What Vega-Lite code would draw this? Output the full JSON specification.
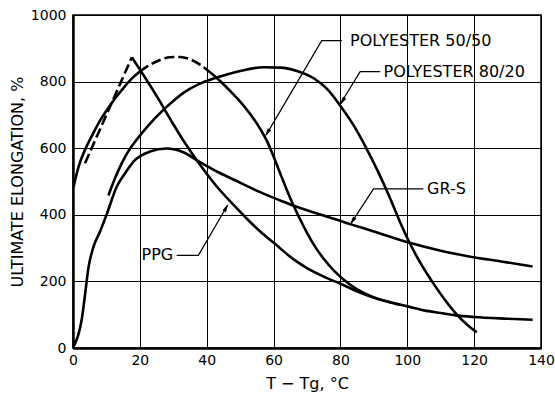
{
  "$schema": "https://vega.github.io/schema/vega-lite/v6.json",
  "width": 468,
  "height": 333,
  "autosize": {"type": "none"},
  "padding": {"left": 73, "top": 15, "right": 14, "bottom": 47},
  "background": "white",
  "config": {
    "view": {"stroke": "black", "strokeWidth": 1.5},
    "font": "DejaVu Sans",
    "axis": {
      "domainColor": "black",
      "domainWidth": 2.5,
      "grid": true,
      "gridColor": "black",
      "gridWidth": 1,
      "gridOpacity": 1,
      "ticks": false,
      "labelFont": "DejaVu Sans",
      "labelFontSize": 14,
      "labelColor": "black",
      "labelFlush": false,
      "labelOverlap": false,
      "titleFont": "DejaVu Sans",
      "titleFontSize": 16,
      "titleFontWeight": "normal",
      "titleColor": "black"
    }
  },
  "datasets": {
    "solid": [
      {"curve": "PPG", "part": "fall", "x": 17.6, "y": 873},
      {"curve": "PPG", "part": "fall", "x": 25, "y": 757},
      {"curve": "PPG", "part": "fall", "x": 30, "y": 672},
      {"curve": "PPG", "part": "fall", "x": 33.6, "y": 614},
      {"curve": "PPG", "part": "fall", "x": 38, "y": 550},
      {"curve": "PPG", "part": "fall", "x": 43, "y": 485},
      {"curve": "PPG", "part": "fall", "x": 48, "y": 430},
      {"curve": "PPG", "part": "fall", "x": 52, "y": 388},
      {"curve": "PPG", "part": "fall", "x": 56, "y": 350},
      {"curve": "PPG", "part": "fall", "x": 60.5, "y": 312},
      {"curve": "PPG", "part": "fall", "x": 66, "y": 266},
      {"curve": "PPG", "part": "fall", "x": 70, "y": 240},
      {"curve": "PPG", "part": "fall", "x": 76, "y": 210},
      {"curve": "PPG", "part": "fall", "x": 80, "y": 193},
      {"curve": "PPG", "part": "fall", "x": 86, "y": 166},
      {"curve": "PPG", "part": "fall", "x": 91, "y": 148},
      {"curve": "PPG", "part": "fall", "x": 95, "y": 137},
      {"curve": "PPG", "part": "fall", "x": 100, "y": 125},
      {"curve": "PPG", "part": "fall", "x": 105, "y": 113},
      {"curve": "PPG", "part": "fall", "x": 110, "y": 105},
      {"curve": "PPG", "part": "fall", "x": 114.5, "y": 98},
      {"curve": "PPG", "part": "fall", "x": 120, "y": 93},
      {"curve": "PPG", "part": "fall", "x": 130, "y": 88},
      {"curve": "PPG", "part": "fall", "x": 137.5, "y": 85},

      {"curve": "POLYESTER 50/50", "part": "rise", "x": 0.2, "y": 485},
      {"curve": "POLYESTER 50/50", "part": "rise", "x": 1.6, "y": 542},
      {"curve": "POLYESTER 50/50", "part": "rise", "x": 3.8, "y": 600},
      {"curve": "POLYESTER 50/50", "part": "rise", "x": 5.8, "y": 640},
      {"curve": "POLYESTER 50/50", "part": "rise", "x": 7.9, "y": 680},
      {"curve": "POLYESTER 50/50", "part": "rise", "x": 10.3, "y": 717},
      {"curve": "POLYESTER 50/50", "part": "rise", "x": 12.8, "y": 752},
      {"curve": "POLYESTER 50/50", "part": "rise", "x": 15.2, "y": 782},
      {"curve": "POLYESTER 50/50", "part": "rise", "x": 17.5, "y": 808},
      {"curve": "POLYESTER 50/50", "part": "rise", "x": 20, "y": 830},

      {"curve": "POLYESTER 50/50", "part": "fall", "x": 41, "y": 828},
      {"curve": "POLYESTER 50/50", "part": "fall", "x": 44, "y": 802},
      {"curve": "POLYESTER 50/50", "part": "fall", "x": 47, "y": 772},
      {"curve": "POLYESTER 50/50", "part": "fall", "x": 50, "y": 740},
      {"curve": "POLYESTER 50/50", "part": "fall", "x": 53, "y": 703},
      {"curve": "POLYESTER 50/50", "part": "fall", "x": 56, "y": 658},
      {"curve": "POLYESTER 50/50", "part": "fall", "x": 58, "y": 622},
      {"curve": "POLYESTER 50/50", "part": "fall", "x": 60, "y": 575},
      {"curve": "POLYESTER 50/50", "part": "fall", "x": 62, "y": 524},
      {"curve": "POLYESTER 50/50", "part": "fall", "x": 64, "y": 474},
      {"curve": "POLYESTER 50/50", "part": "fall", "x": 66, "y": 427},
      {"curve": "POLYESTER 50/50", "part": "fall", "x": 68, "y": 385},
      {"curve": "POLYESTER 50/50", "part": "fall", "x": 70, "y": 346},
      {"curve": "POLYESTER 50/50", "part": "fall", "x": 72.5, "y": 303},
      {"curve": "POLYESTER 50/50", "part": "fall", "x": 75, "y": 268},
      {"curve": "POLYESTER 50/50", "part": "fall", "x": 78, "y": 233},
      {"curve": "POLYESTER 50/50", "part": "fall", "x": 81, "y": 205},
      {"curve": "POLYESTER 50/50", "part": "fall", "x": 85, "y": 176},
      {"curve": "POLYESTER 50/50", "part": "fall", "x": 90, "y": 152},
      {"curve": "POLYESTER 50/50", "part": "fall", "x": 95, "y": 137},

      {"curve": "POLYESTER 80/20", "part": "all", "x": 10.6, "y": 458},
      {"curve": "POLYESTER 80/20", "part": "all", "x": 12.5, "y": 508},
      {"curve": "POLYESTER 80/20", "part": "all", "x": 14.6, "y": 555},
      {"curve": "POLYESTER 80/20", "part": "all", "x": 17, "y": 598},
      {"curve": "POLYESTER 80/20", "part": "all", "x": 19, "y": 625},
      {"curve": "POLYESTER 80/20", "part": "all", "x": 22.5, "y": 668},
      {"curve": "POLYESTER 80/20", "part": "all", "x": 26.5, "y": 710},
      {"curve": "POLYESTER 80/20", "part": "all", "x": 30, "y": 742},
      {"curve": "POLYESTER 80/20", "part": "all", "x": 33.6, "y": 770},
      {"curve": "POLYESTER 80/20", "part": "all", "x": 38, "y": 794},
      {"curve": "POLYESTER 80/20", "part": "all", "x": 43, "y": 812},
      {"curve": "POLYESTER 80/20", "part": "all", "x": 50, "y": 832},
      {"curve": "POLYESTER 80/20", "part": "all", "x": 57, "y": 843},
      {"curve": "POLYESTER 80/20", "part": "all", "x": 62, "y": 842},
      {"curve": "POLYESTER 80/20", "part": "all", "x": 67, "y": 832},
      {"curve": "POLYESTER 80/20", "part": "all", "x": 72, "y": 810},
      {"curve": "POLYESTER 80/20", "part": "all", "x": 76, "y": 778},
      {"curve": "POLYESTER 80/20", "part": "all", "x": 80, "y": 727},
      {"curve": "POLYESTER 80/20", "part": "all", "x": 84, "y": 668},
      {"curve": "POLYESTER 80/20", "part": "all", "x": 87.5, "y": 605},
      {"curve": "POLYESTER 80/20", "part": "all", "x": 91, "y": 535},
      {"curve": "POLYESTER 80/20", "part": "all", "x": 94.5, "y": 458},
      {"curve": "POLYESTER 80/20", "part": "all", "x": 97.5, "y": 386},
      {"curve": "POLYESTER 80/20", "part": "all", "x": 100.4, "y": 322},
      {"curve": "POLYESTER 80/20", "part": "all", "x": 104, "y": 254},
      {"curve": "POLYESTER 80/20", "part": "all", "x": 107.4, "y": 200},
      {"curve": "POLYESTER 80/20", "part": "all", "x": 111, "y": 148},
      {"curve": "POLYESTER 80/20", "part": "all", "x": 114.5, "y": 104},
      {"curve": "POLYESTER 80/20", "part": "all", "x": 118, "y": 69},
      {"curve": "POLYESTER 80/20", "part": "all", "x": 120.8, "y": 47},

      {"curve": "GR-S", "part": "all", "x": 0, "y": 0},
      {"curve": "GR-S", "part": "all", "x": 0.8, "y": 18},
      {"curve": "GR-S", "part": "all", "x": 1.6, "y": 40},
      {"curve": "GR-S", "part": "all", "x": 2.6, "y": 85},
      {"curve": "GR-S", "part": "all", "x": 3.6, "y": 160},
      {"curve": "GR-S", "part": "all", "x": 4.6, "y": 240},
      {"curve": "GR-S", "part": "all", "x": 6, "y": 300},
      {"curve": "GR-S", "part": "all", "x": 8.1, "y": 350},
      {"curve": "GR-S", "part": "all", "x": 10.1, "y": 402},
      {"curve": "GR-S", "part": "all", "x": 13.1, "y": 485},
      {"curve": "GR-S", "part": "all", "x": 15.6, "y": 525},
      {"curve": "GR-S", "part": "all", "x": 18.1, "y": 560},
      {"curve": "GR-S", "part": "all", "x": 23, "y": 590},
      {"curve": "GR-S", "part": "all", "x": 28, "y": 599},
      {"curve": "GR-S", "part": "all", "x": 33, "y": 588},
      {"curve": "GR-S", "part": "all", "x": 38, "y": 558},
      {"curve": "GR-S", "part": "all", "x": 43, "y": 530},
      {"curve": "GR-S", "part": "all", "x": 48, "y": 506},
      {"curve": "GR-S", "part": "all", "x": 56, "y": 468},
      {"curve": "GR-S", "part": "all", "x": 62, "y": 443},
      {"curve": "GR-S", "part": "all", "x": 66, "y": 427},
      {"curve": "GR-S", "part": "all", "x": 75, "y": 398},
      {"curve": "GR-S", "part": "all", "x": 82.9, "y": 372},
      {"curve": "GR-S", "part": "all", "x": 90, "y": 350},
      {"curve": "GR-S", "part": "all", "x": 99.9, "y": 318},
      {"curve": "GR-S", "part": "all", "x": 110, "y": 292},
      {"curve": "GR-S", "part": "all", "x": 118.5, "y": 275},
      {"curve": "GR-S", "part": "all", "x": 128, "y": 260},
      {"curve": "GR-S", "part": "all", "x": 137.5, "y": 245}
    ],
    "dashed": [
      {"curve": "PPG", "x": 3.6, "y": 555},
      {"curve": "PPG", "x": 17.6, "y": 873},
      {"curve": "POLYESTER 50/50", "x": 20, "y": 830},
      {"curve": "POLYESTER 50/50", "x": 23, "y": 850},
      {"curve": "POLYESTER 50/50", "x": 26, "y": 865},
      {"curve": "POLYESTER 50/50", "x": 29, "y": 873},
      {"curve": "POLYESTER 50/50", "x": 32, "y": 874},
      {"curve": "POLYESTER 50/50", "x": 35, "y": 867},
      {"curve": "POLYESTER 50/50", "x": 38, "y": 851},
      {"curve": "POLYESTER 50/50", "x": 41, "y": 828}
    ],
    "leaders": [
      {"label": "POLYESTER 50/50", "i": 1, "x": 80.4, "y": 923},
      {"label": "POLYESTER 50/50", "i": 2, "x": 74.4, "y": 923},
      {"label": "POLYESTER 50/50", "i": 3, "x": 57.8, "y": 640},
      {"label": "POLYESTER 80/20", "i": 1, "x": 91.9, "y": 830},
      {"label": "POLYESTER 80/20", "i": 2, "x": 85.9, "y": 830},
      {"label": "POLYESTER 80/20", "i": 3, "x": 80.1, "y": 735},
      {"label": "GR-S", "i": 1, "x": 104.8, "y": 478},
      {"label": "GR-S", "i": 2, "x": 89.9, "y": 478},
      {"label": "GR-S", "i": 3, "x": 83.2, "y": 375},
      {"label": "PPG", "i": 1, "x": 31, "y": 278},
      {"label": "PPG", "i": 2, "x": 37.5, "y": 278},
      {"label": "PPG", "i": 3, "x": 46.2, "y": 428}
    ],
    "labels": [
      {"label": "POLYESTER 50/50", "x": 82.9, "y": 923},
      {"label": "POLYESTER 80/20", "x": 92.9, "y": 830},
      {"label": "GR-S", "x": 105.9, "y": 478},
      {"label": "PPG", "x": 20.5, "y": 278}
    ],
    "arrows": [
      {"label": "POLYESTER 50/50", "x": 58.24, "y": 647.7},
      {"label": "POLYESTER 80/20", "x": 80.7, "y": 742.8},
      {"label": "GR-S", "x": 83.7, "y": 382.5},
      {"label": "PPG", "x": 45.74, "y": 420}
    ]
  },
  "layer": [
    {
      "data": {"name": "solid"},
      "mark": {"type": "line", "interpolate": "monotone", "color": "black", "strokeWidth": 2.6},
      "encoding": {
        "x": {
          "field": "x", "type": "quantitative",
          "scale": {"domain": [0, 140], "nice": false},
          "axis": {"values": [0, 20, 40, 60, 80, 100, 120, 140], "format": "d", "labelPadding": 5, "title": "T − Tg, °C", "titlePadding": 8}
        },
        "y": {
          "field": "y", "type": "quantitative",
          "scale": {"domain": [0, 1000], "nice": false},
          "axis": {"values": [0, 200, 400, 600, 800, 1000], "format": "d", "labelPadding": 7, "title": "ULTIMATE ELONGATION, %", "titlePadding": 5}
        },
        "detail": [{"field": "curve"}, {"field": "part"}]
      }
    },
    {
      "data": {"name": "dashed"},
      "mark": {"type": "line", "interpolate": "monotone", "color": "black", "strokeWidth": 2.6, "strokeDash": [10, 4]},
      "encoding": {
        "x": {"field": "x", "type": "quantitative"},
        "y": {"field": "y", "type": "quantitative"},
        "detail": {"field": "curve"}
      }
    },
    {
      "data": {"name": "leaders"},
      "mark": {"type": "line", "color": "black", "strokeWidth": 1.2},
      "encoding": {
        "x": {"field": "x", "type": "quantitative"},
        "y": {"field": "y", "type": "quantitative"},
        "detail": {"field": "label"},
        "order": {"field": "i", "type": "quantitative"}
      }
    },
    {
      "data": {"name": "labels"},
      "mark": {"type": "text", "align": "left", "baseline": "middle", "fontSize": 16, "font": "DejaVu Sans", "color": "black"},
      "encoding": {
        "x": {"field": "x", "type": "quantitative"},
        "y": {"field": "y", "type": "quantitative"},
        "text": {"field": "label"}
      }
    },
    {
      "data": {"name": "arrows"},
      "transform": [{"filter": "datum.label === 'POLYESTER 50/50'"}],
      "mark": {"type": "point", "shape": "M0,-1L0.4,0.7L-0.4,0.7Z", "filled": true, "color": "black", "opacity": 1, "size": 100, "angle": 210.5},
      "encoding": {"x": {"field": "x", "type": "quantitative"}, "y": {"field": "y", "type": "quantitative"}}
    },
    {
      "data": {"name": "arrows"},
      "transform": [{"filter": "datum.label === 'POLYESTER 80/20'"}],
      "mark": {"type": "point", "shape": "M0,-1L0.4,0.7L-0.4,0.7Z", "filled": true, "color": "black", "opacity": 1, "size": 100, "angle": 211},
      "encoding": {"x": {"field": "x", "type": "quantitative"}, "y": {"field": "y", "type": "quantitative"}}
    },
    {
      "data": {"name": "arrows"},
      "transform": [{"filter": "datum.label === 'GR-S'"}],
      "mark": {"type": "point", "shape": "M0,-1L0.4,0.7L-0.4,0.7Z", "filled": true, "color": "black", "opacity": 1, "size": 100, "angle": 213},
      "encoding": {"x": {"field": "x", "type": "quantitative"}, "y": {"field": "y", "type": "quantitative"}}
    },
    {
      "data": {"name": "arrows"},
      "transform": [{"filter": "datum.label === 'PPG'"}],
      "mark": {"type": "point", "shape": "M0,-1L0.4,0.7L-0.4,0.7Z", "filled": true, "color": "black", "opacity": 1, "size": 100, "angle": 30},
      "encoding": {"x": {"field": "x", "type": "quantitative"}, "y": {"field": "y", "type": "quantitative"}}
    }
  ]
}
